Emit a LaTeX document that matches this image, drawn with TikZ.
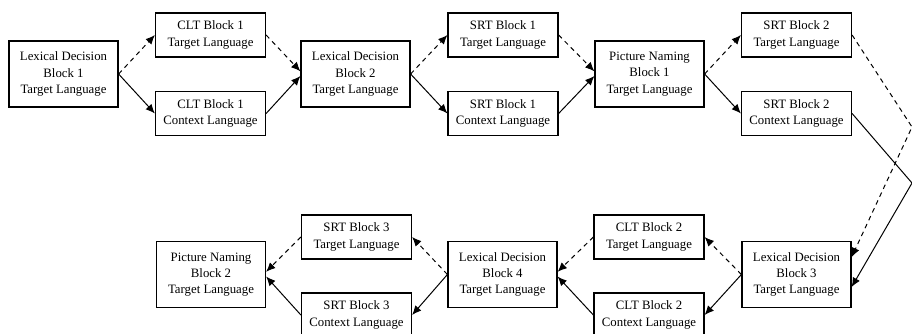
\documentclass[tikz,border=0pt]{standalone}
\usepackage{fontspec}
\setmainfont{Liberation Serif}
\usetikzlibrary{arrows.meta}
\begin{document}
\begin{tikzpicture}[x=0.75pt,y=-0.75pt,
  box/.style={draw,line width=0.9pt,inner sep=0pt,align=center,minimum width=82.5pt,minimum height=33pt,font=\fontsize{9.6}{12.2}\selectfont},
  bigbox/.style={box,minimum width=81.75pt,minimum height=49.5pt},
  conn/.style={line width=0.75pt,-{Latex[length=7pt,width=6pt]}},
  dsh/.style={conn,dash pattern=on 3.5pt off 3pt}]
\useasboundingbox (0,0) rectangle (912,333);
% top row
\node[bigbox] (LD1) at (63.5,74) {Lexical Decision\\Block 1\\Target Language};
\node[box] (CLT1T) at (210.5,35) {CLT Block 1\\Target Language};
\node[box] (CLT1C) at (210.5,113.5) {CLT Block 1\\Context Language};
\node[bigbox] (LD2) at (355.5,74) {Lexical Decision\\Block 2\\Target Language};
\node[box] (SRT1T) at (503,35) {SRT Block 1\\Target Language};
\node[box] (SRT1C) at (503,113.5) {SRT Block 1\\Context Language};
\node[bigbox] (PN1) at (649.5,74) {Picture Naming\\Block 1\\Target Language};
\node[box] (SRT2T) at (796.5,35) {SRT Block 2\\Target Language};
\node[box] (SRT2C) at (796.5,113.5) {SRT Block 2\\Context Language};
% bottom row
\node[bigbox] (LD3) at (796.5,274.5) {Lexical Decision\\Block 3\\Target Language};
\node[box] (CLT2T) at (649,237) {CLT Block 2\\Target Language};
\node[box] (CLT2C) at (649,315) {CLT Block 2\\Context Language};
\node[bigbox] (LD4) at (502.5,274.5) {Lexical Decision\\Block 4\\Target Language};
\node[box] (SRT3T) at (356.5,237) {SRT Block 3\\Target Language};
\node[box] (SRT3C) at (356.5,315) {SRT Block 3\\Context Language};
\node[bigbox] (PN2) at (211,274.5) {Picture Naming\\Block 2\\Target Language};
% corners on the right
\coordinate (cd) at (912,127);
\coordinate (cs) at (912,183);
% connectors top
\draw[dsh] (LD1.east) -- (CLT1T.west);
\draw[conn] (LD1.east) -- (CLT1C.west);
\draw[dsh] (CLT1T.east) -- ([yshift=2pt]LD2.west);
\draw[conn] (CLT1C.east) -- ([yshift=-1.5pt]LD2.west);
\draw[dsh] (LD2.east) -- (SRT1T.west);
\draw[conn] (LD2.east) -- (SRT1C.west);
\draw[dsh] (SRT1T.east) -- ([yshift=2pt]PN1.west);
\draw[conn] (SRT1C.east) -- ([yshift=-1.5pt]PN1.west);
\draw[dsh] (PN1.east) -- (SRT2T.west);
\draw[conn] (PN1.east) -- (SRT2C.west);
% right side
\draw[dsh] (SRT2T.east) -- (cd) -- ([yshift=13pt]LD3.east);
\draw[conn] (SRT2C.east) -- (cs) -- ([yshift=-9.4pt]LD3.east);
% bottom connectors
\draw[dsh] (LD3.west) -- (CLT2T.east);
\draw[conn] (LD3.west) -- (CLT2C.east);
\draw[dsh] (CLT2T.west) -- ([yshift=2pt]LD4.east);
\draw[conn] (CLT2C.west) -- ([yshift=-1.5pt]LD4.east);
\draw[dsh] (LD4.west) -- (SRT3T.east);
\draw[conn] (LD4.west) -- (SRT3C.east);
\draw[dsh] (SRT3T.west) -- ([yshift=2pt]PN2.east);
\draw[conn] (SRT3C.west) -- ([yshift=-1.5pt]PN2.east);
\end{tikzpicture}
\end{document}
